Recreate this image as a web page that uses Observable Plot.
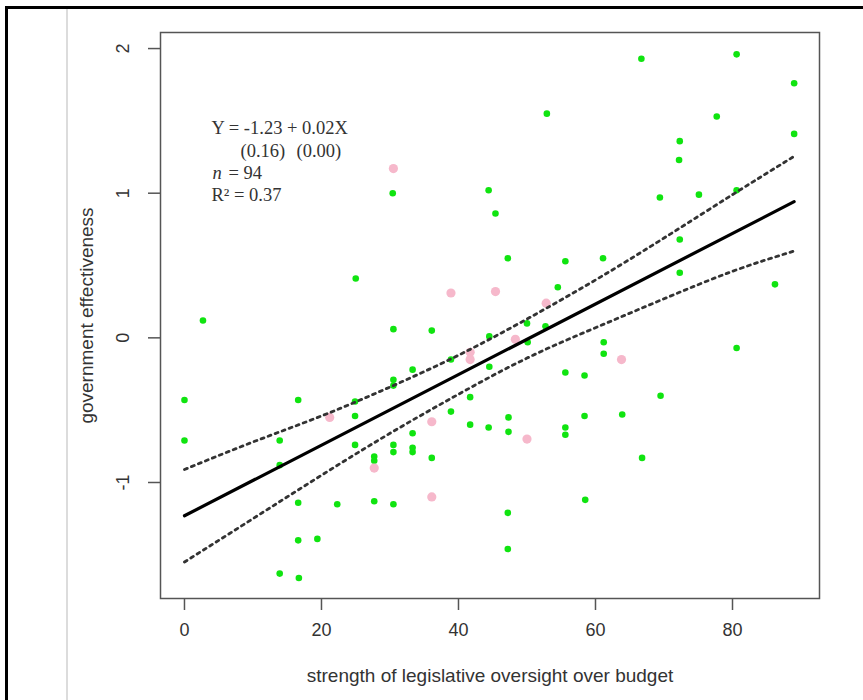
<!DOCTYPE html>
<html><head><meta charset="utf-8">
<script src="https://cdn.jsdelivr.net/npm/d3@7"></script>
<script src="https://cdn.jsdelivr.net/npm/@observablehq/plot@0.6"></script>
<style>
html,body{margin:0;padding:0;background:#fff;}
#wrap{position:relative;width:863px;height:700px;overflow:hidden;background:#fff;}
#border{position:absolute;left:5px;top:6px;width:900px;height:800px;border-top:3px solid #000;border-left:3px solid #000;}
#rule{position:absolute;left:66px;top:9px;width:1.5px;height:700px;background:#dcdcdc;}
#chart{position:absolute;left:0;top:0;}
</style></head>
<body><div id="wrap"><div id="border"></div><div id="rule"></div><div id="chart"></div></div>
<script>
// Observations: [strength of oversight, government effectiveness]
const greenPts = [
  [30.4,1.00],[44.4,1.02],[45.4,0.86],[25.0,0.41],[2.7,0.12],[30.5,0.06],[36.1,0.05],[44.5,0.01],
  [66.7,1.93],[80.6,1.96],[89.0,1.76],[52.9,1.55],[77.7,1.53],[72.3,1.36],[89.0,1.41],[72.2,1.23],
  [69.4,0.97],[75.1,0.99],[80.6,1.02],[72.3,0.68],[47.2,0.55],[55.6,0.53],[61.1,0.55],[72.3,0.45],
  [54.5,0.35],[86.2,0.37],[50.0,0.10],[52.7,0.08],[50.1,-0.03],[61.2,-0.03],[80.6,-0.07],[38.9,-0.15],
  [44.5,-0.20],[33.3,-0.22],[30.5,-0.29],[30.5,-0.33],[0.0,-0.43],[16.6,-0.43],[24.9,-0.44],[24.9,-0.54],
  [41.7,-0.41],[38.9,-0.51],[41.7,-0.60],[44.4,-0.62],[33.3,-0.66],[0.0,-0.71],[13.9,-0.71],[24.9,-0.74],
  [30.5,-0.74],[30.5,-0.79],[33.3,-0.76],[33.3,-0.79],[27.7,-0.82],[27.7,-0.85],[36.1,-0.83],[13.9,-0.88],
  [16.6,-1.14],[22.3,-1.15],[27.7,-1.13],[30.5,-1.15],[16.6,-1.40],[19.4,-1.39],[13.9,-1.63],[16.7,-1.66],
  [61.2,-0.11],[55.6,-0.24],[58.4,-0.26],[69.5,-0.40],[47.3,-0.55],[47.3,-0.65],[55.6,-0.62],[55.6,-0.67],
  [58.4,-0.54],[63.9,-0.53],[66.8,-0.83],[58.5,-1.12],[47.2,-1.21],[47.2,-1.46]
];
const pinkPts = [
  [30.5,1.17],[38.9,0.31],[45.4,0.32],[52.8,0.24],[48.3,-0.01],[41.7,-0.10],[41.7,-0.15],
  [21.2,-0.55],[36.1,-0.58],[27.7,-0.90],[36.1,-1.10],[63.8,-0.15],[50.0,-0.70]
];
// Fitted line (coefficients)
const fitIntercept = -1.23;
const fitSlope = 0.0244;
const fitX = [0, 89];
// Confidence band
const bandX     = [0, 10, 20, 30, 40, 50, 60, 70, 80, 89];
const bandUpper = [-0.91, -0.72, -0.54, -0.34, -0.12, 0.13, 0.40, 0.69, 0.99, 1.255];
const bandLower = [-1.55, -1.25, -0.95, -0.66, -0.39, -0.14, 0.07, 0.27, 0.46, 0.60];
// Axes
const xTicks = [0, 20, 40, 60, 80];
const yTicks = [-1, 0, 1, 2];
const xTitle = "strength of legislative oversight over budget";
const yTitle = "government effectiveness";
const eqLine = "Y = -1.23 + 0.02X";
const seLine = ["(0.16)", "(0.00)"];
const nLabel = ["n", "= 94"];
const r2Line = "R\u00B2 = 0.37";

const toObj = a => a.map(([x, y]) => ({x, y}));
const fitData = fitX.map(x => ({x, y: fitIntercept + fitSlope * x}));
const upperData = bandX.map((x, i) => ({x, y: bandUpper[i]}));
const lowerData = bandX.map((x, i) => ({x, y: bandLower[i]}));

const sans = "'Liberation Sans', Arial, Helvetica, sans-serif";
const serif = "'Liberation Serif', 'Times New Roman', serif";
const annot = {frameAnchor: "top-left", textAnchor: "start", lineAnchor: "middle", fontFamily: serif, fontSize: 18.5, fill: "#333"};

const chart = Plot.plot({
  width: 863, height: 700,
  marginLeft: 160, marginRight: 44, marginTop: 32, marginBottom: 102,
  style: {background: "transparent", fontFamily: sans, fontSize: "18px", color: "#333"},
  x: {domain: [-3.5, 92.7]},
  y: {domain: [-1.802, 2.111]},
  marks: [
    Plot.dot(toObj(greenPts), {x: "x", y: "y", r: 3.3, fill: "#10e410", stroke: null}),
    Plot.dot(toObj(pinkPts), {x: "x", y: "y", r: 4.6, fill: "#f6b8cb", stroke: null}),
    Plot.line(upperData, {x: "x", y: "y", curve: "natural", stroke: "#333", strokeWidth: 2.8, strokeDasharray: "3,4.5"}),
    Plot.line(lowerData, {x: "x", y: "y", curve: "natural", stroke: "#333", strokeWidth: 2.8, strokeDasharray: "3,4.5"}),
    Plot.line(fitData, {x: "x", y: "y", stroke: "#000", strokeWidth: 3.2}),
    Plot.frame({stroke: "#555", strokeWidth: 1.5}),
    Plot.axisX({ticks: xTicks, tickSize: 12, tickPadding: 13, stroke: "#555", strokeWidth: 1.5, tickFormat: d => String(d), label: null, fontSize: 18, fill: "#333"}),
    Plot.axisY({ticks: yTicks, tickSize: 12, stroke: "#555", strokeWidth: 1.5, tickFormat: () => "", label: null}),
    Plot.text(yTicks, {y: d => d, frameAnchor: "left", dx: -37, rotate: -90, text: d => String(d), fontSize: 18, fill: "#333", textAnchor: "middle", lineAnchor: "middle"}),
    Plot.text([yTitle], {frameAnchor: "left", dx: -74, rotate: -90, text: d => d, fontSize: 19, fill: "#333", textAnchor: "middle", lineAnchor: "middle"}),
    Plot.text([xTitle], {frameAnchor: "bottom", dy: 77, text: d => d, fontSize: 19, fill: "#333", textAnchor: "middle", lineAnchor: "middle"}),
    Plot.text([eqLine], {...annot, dx: 51, dy: 96, text: d => d}),
    Plot.text([seLine[0]], {...annot, dx: 80, dy: 119, text: d => d}),
    Plot.text([seLine[1]], {...annot, dx: 136, dy: 119, text: d => d}),
    Plot.text([nLabel[0]], {...annot, dx: 52, dy: 141, text: d => d, fontStyle: "italic"}),
    Plot.text([nLabel[1]], {...annot, dx: 68, dy: 141, text: d => d}),
    Plot.text([r2Line], {...annot, dx: 51, dy: 163, text: d => d})
  ]
});
document.getElementById("chart").appendChild(chart);
</script>
</body></html>
